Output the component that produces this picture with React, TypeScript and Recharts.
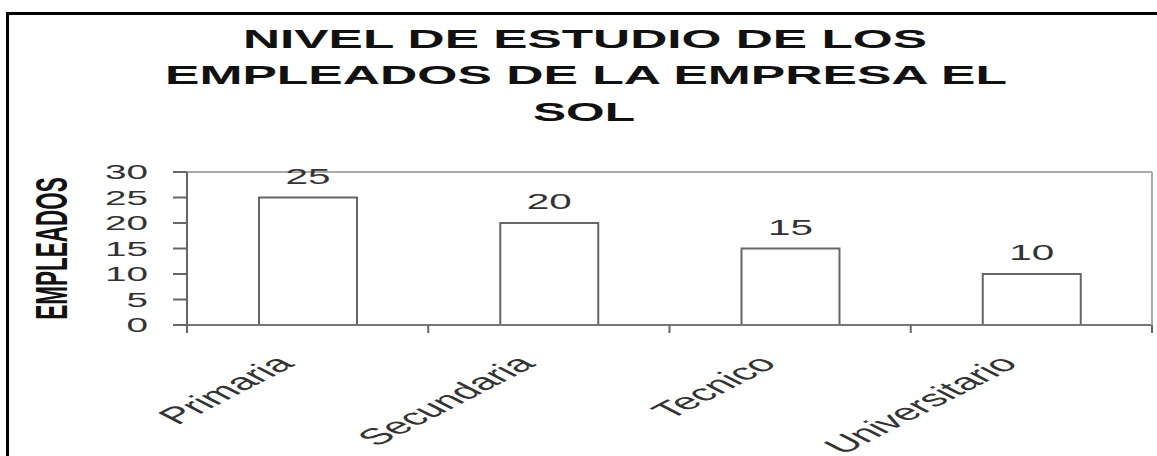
import React from 'react';
import { BarChart, Bar, XAxis, YAxis, ReferenceLine, LabelList } from 'recharts';

const categories = ['Primaria', 'Secundaria', 'Tecnico', 'Universitario'];
const empleados = [25, 20, 15, 10];
const yTicks = [0, 5, 10, 15, 20, 25, 30];
const edgeTicks = [0, 1, 2, 3, 4];
const titleLines = ['NIVEL DE ESTUDIO DE LOS', 'EMPLEADOS DE LA EMPRESA EL', 'SOL'];
const yAxisTitle = 'EMPLEADOS';

const FONT = '"Liberation Sans", Arial, sans-serif';
// the original picture is stretched sideways, so the text is too
const STRETCH = 1.95;

const chartData = categories.map((name, i) => ({
  name,
  pos: i + 0.5,
  value: empleados[i],
}));

const xTicks = [...edgeTicks, ...chartData.map((d) => d.pos)].sort((a, b) => a - b);

const YTick = (props: any) => {
  const { x, y, payload } = props;
  const txt = String(payload.value);
  return (
    <text
      x={x}
      y={y}
      dy="0.35em"
      textAnchor="end"
      fontFamily={FONT}
      fontSize={20}
      fill="#333"
      textLength={txt.length * 21.5}
      lengthAdjust="spacingAndGlyphs"
    >
      {txt}
    </text>
  );
};

const XTick = (props: any) => {
  const { x, y, payload } = props;
  const v = payload.value as number;
  if (Number.isInteger(v)) {
    return <line x1={x} y1={y} x2={x} y2={y + 8} stroke="#666" strokeWidth={2} />;
  }
  const name = categories[Math.floor(v)];
  return (
    <text
      transform={`translate(${x - 12}, ${y + 40}) scale(${STRETCH}, 1) rotate(-45)`}
      textAnchor="end"
      fontFamily={FONT}
      fontSize={23}
      fill="#333"
    >
      {name}
    </text>
  );
};

const ValueLabel = (props: any) => {
  const { x, y, width, value } = props;
  return (
    <text
      x={x + width / 2}
      y={y - 14}
      textAnchor="middle"
      fontFamily={FONT}
      fontSize={22}
      fill="#333"
      textLength={45}
      lengthAdjust="spacingAndGlyphs"
    >
      {value}
    </text>
  );
};

export default function App() {
  return (
    <div
      style={{
        position: 'fixed',
        left: 0,
        top: 0,
        width: 1157,
        height: 456,
        overflow: 'hidden',
        background: '#fff',
      }}
    >
      <div
        style={{
          position: 'absolute',
          left: 6,
          top: 12,
          width: 1250,
          height: 520,
          border: '3px solid #000',
          boxSizing: 'border-box',
        }}
      />
      <div style={{ position: 'absolute', left: 0, top: 0 }}>
        <BarChart
          width={1157}
          height={456}
          data={chartData}
          margin={{ top: 172, right: 0, bottom: 0, left: 0 }}
        >
          <XAxis
            dataKey="pos"
            type="number"
            domain={[0, 4]}
            ticks={xTicks}
            interval={0}
            height={131}
            tickLine={false}
            tickSize={0}
            tickMargin={0}
            axisLine={{ stroke: '#777', strokeWidth: 2 }}
            tick={<XTick />}
          />
          <YAxis
            yAxisId="left"
            domain={[0, 30]}
            ticks={yTicks}
            interval={0}
            width={187}
            tickSize={14}
            tickMargin={25}
            tickLine={{ stroke: '#666', strokeWidth: 2 }}
            axisLine={{ stroke: '#666', strokeWidth: 2 }}
            tick={<YTick />}
          />
          <YAxis
            yAxisId="right"
            orientation="right"
            domain={[0, 30]}
            width={5}
            tick={false}
            tickLine={false}
            axisLine={{ stroke: '#aaa', strokeWidth: 2 }}
          />
          <ReferenceLine yAxisId="left" y={30} stroke="#aaa" strokeWidth={2} />
          <Bar
            yAxisId="left"
            dataKey="value"
            barSize={98}
            fill="#fff"
            stroke="#666"
            strokeWidth={2}
            isAnimationActive={false}
          >
            <LabelList dataKey="value" content={<ValueLabel />} />
          </Bar>
        </BarChart>
      </div>
      <svg
        width={1157}
        height={456}
        style={{ position: 'absolute', left: 0, top: 0, pointerEvents: 'none' }}
      >
        <text
          x={585}
          y={48}
          textAnchor="middle"
          fontFamily={FONT}
          fontWeight="bold"
          fontSize={26.5}
          fill="#111"
          textLength={684}
          lengthAdjust="spacingAndGlyphs"
        >
          {titleLines[0]}
        </text>
        <text
          x={586}
          y={84}
          textAnchor="middle"
          fontFamily={FONT}
          fontWeight="bold"
          fontSize={26.5}
          fill="#111"
          textLength={842}
          lengthAdjust="spacingAndGlyphs"
        >
          {titleLines[1]}
        </text>
        <text
          x={584}
          y={121}
          textAnchor="middle"
          fontFamily={FONT}
          fontWeight="bold"
          fontSize={26.5}
          fill="#111"
          textLength={102}
          lengthAdjust="spacingAndGlyphs"
        >
          {titleLines[2]}
        </text>
        <text
          transform={`translate(51.5, 248.5) rotate(-90) scale(1, ${STRETCH})`}
          dy="0.36em"
          textAnchor="middle"
          fontFamily={FONT}
          fontWeight="bold"
          fontSize={22.5}
          fill="#111"
        >
          {yAxisTitle}
        </text>
      </svg>
    </div>
  );
}
